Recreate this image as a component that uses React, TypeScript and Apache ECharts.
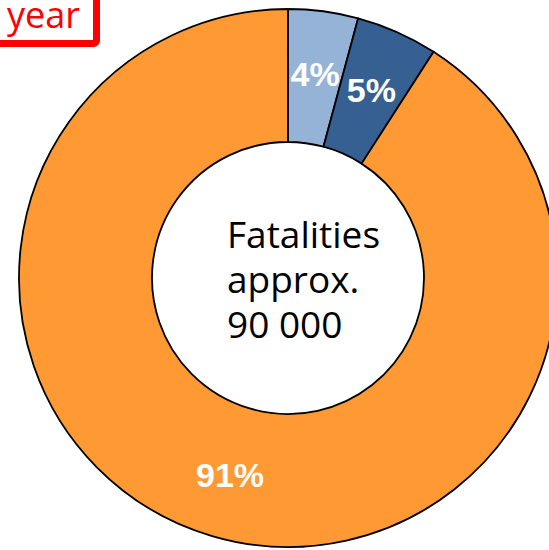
import React, { useEffect, useRef } from "react";
import * as echarts from "echarts";

const categories = ["Category A", "Category B", "Category C"];
const values = [4.2, 4.9, 90.9];
const colors = ["#95B3D7", "#366092", "#FF9933"];
const centerLines = ["Fatalities", "approx.", "90 000"];
const cornerLabel = "year";

export default function App() {
  const ref = useRef<HTMLDivElement>(null);
  useEffect(() => {
    if (!ref.current) return;
    const chart = echarts.init(ref.current, null, { renderer: "svg" });
    chart.setOption({
      animation: false,
      backgroundColor: "#ffffff",
      series: [
        {
          type: "pie",
          center: [288, 278],
          radius: [136, 269],
          startAngle: 90,
          clockwise: true,
          avoidLabelOverlap: false,
          itemStyle: { borderColor: "#000000", borderWidth: 1.8 },
          label: {
            show: true,
            position: "inside",
            color: "#ffffff",
            fontWeight: "bold",
            fontSize: 34,
            fontFamily: "Liberation Sans, Arial, sans-serif",
            formatter: (p: any) => Math.round(p.percent) + "%",
          },
          labelLine: { show: false },
          emphasis: { disabled: true },
          data: categories.map((c, i) => ({
            name: c,
            value: values[i],
            itemStyle: { color: colors[i] },
          })),
        },
      ],
      graphic: [
        ...centerLines.map((line, i) => ({
          type: "text",
          left: 227,
          top: 211 + i * 45,
          style: {
            text: line,
            font: "37px 'Open Sans', sans-serif",
            lineHeight: 44,
            fill: "#000000",
            align: "left",
          },
        })),
        {
          type: "rect",
          shape: { x: -20, y: -20, width: 116.5, height: 63.5, r: 3 },
          style: { fill: "#ffffff", stroke: "#FF0000", lineWidth: 7 },
        },
        {
          type: "text",
          left: 7,
          top: -4,
          style: {
            text: cornerLabel,
            font: "36px 'Open Sans', sans-serif",
            fill: "#FF0000",
          },
        },
      ],
    });
    return () => chart.dispose();
  }, []);
  return (
    <div
      ref={ref}
      style={{ position: "absolute", left: 0, top: 0, width: 549, height: 550 }}
    />
  );
}
